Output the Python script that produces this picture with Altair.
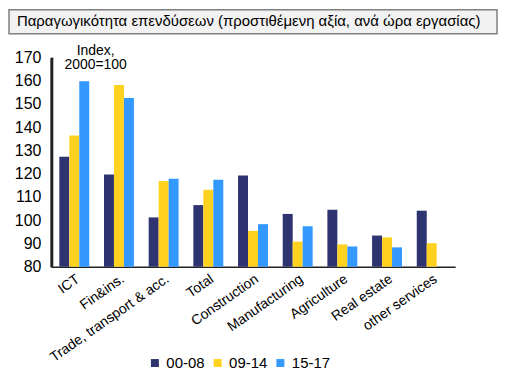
import altair as alt
import pandas as pd

categories = ["ICT", "Fin&ins.", "Trade, transport & acc.", "Total", "Construction",
              "Manufacturing", "Agriculture", "Real estate", "other services"]
periods = ["00-08", "09-14", "15-17"]
s_00_08 = [127.3, 119.7, 101.2, 106.5, 119.2, 102.7, 104.5, 93.4, 104.1]
s_09_14 = [136.4, 158.2, 116.9, 113.1, 95.4, 90.8, 89.6, 92.6, 90.1]
s_15_17 = [159.8, 152.6, 117.8, 117.4, 98.3, 97.4, 88.7, 88.3, None]
colors = ["#2e3470", "#ffd21f", "#3399ff"]
title_text = "Παραγωγικότητα επενδύσεων (προστιθέμενη αξία, ανά ώρα εργασίας)"
unit_text = ["Index,", "2000=100"]
y_base = 80
y_top = 170

rows = []
for p, series in zip(periods, [s_00_08, s_09_14, s_15_17]):
    for c, v in zip(categories, series):
        if v is not None:
            rows.append({"cat": c, "period": p, "value": v})
df = pd.DataFrame(rows)

FONT = "Liberation Sans"

box = alt.Chart().mark_rect(fill="#f2f2f2", stroke="#7f7f7f", strokeWidth=1.5).encode(
    x=alt.value(-42), x2=alt.value(448), y=alt.value(-48), y2=alt.value(-24)
)
title = alt.Chart().mark_text(text=title_text, align="left", baseline="middle",
                              fontSize=15, font=FONT, color="#000000").encode(
    x=alt.value(-34), y=alt.value(-37)
)
unit = alt.Chart().mark_text(text=unit_text, align="center", baseline="top",
                             fontSize=14, font=FONT, color="#000000", lineHeight=15).encode(
    x=alt.value(45), y=alt.value(-14)
)

yscale = alt.Scale(domain=[y_base, y_top], nice=False, zero=False)

bars = alt.Chart(df).mark_bar().encode(
    x=alt.X("cat:N", sort=categories, title=None,
            scale=alt.Scale(paddingInner=0.33, paddingOuter=0.19),
            axis=alt.Axis(labelAngle=-35, labelFontSize=14, labelFont=FONT, labelColor="#000000",
                          ticks=False, domainColor="#222222", domainWidth=1.5, labelPadding=5,
                          labelAlign="right", labelBaseline="top")),
    xOffset=alt.XOffset("period:N", sort=periods, scale=alt.Scale(paddingInner=0, paddingOuter=0)),
    y=alt.Y("value:Q", title=None, scale=yscale,
            axis=alt.Axis(values=list(range(80, 171, 10)), grid=False, ticks=False, domain=True,
                          labelFontSize=16, labelFont=FONT, labelColor="#000000",
                          domainColor="#222222", domainWidth=2, labelPadding=10)),
    y2=alt.datum(y_base),
    color=alt.Color("period:N", sort=periods, title=None,
                    scale=alt.Scale(domain=periods, range=colors),
                    legend=alt.Legend(orient="none", legendX=97, legendY=299, direction="horizontal",
                                      symbolType="square", symbolSize=64, symbolStrokeWidth=0,
                                      labelFontSize=15, labelFont=FONT, labelColor="#000000",
                                      labelOffset=4, columnPadding=5, padding=0)),
)

yline = alt.Chart().mark_rule(color="#222222", strokeWidth=2).encode(
    x=alt.value(1.5), y=alt.value(0), y2=alt.value(210)
)

chart = alt.layer(box, title, unit, bars, yline).properties(
    width=406, height=210,
    autosize=alt.AutoSizeParams(type="none"),
    padding={"left": 43, "top": 49, "right": 43, "bottom": 103},
).configure_view(stroke=None)

chart.save("out.html", embed_options={"renderer": "svg", "actions": False})
